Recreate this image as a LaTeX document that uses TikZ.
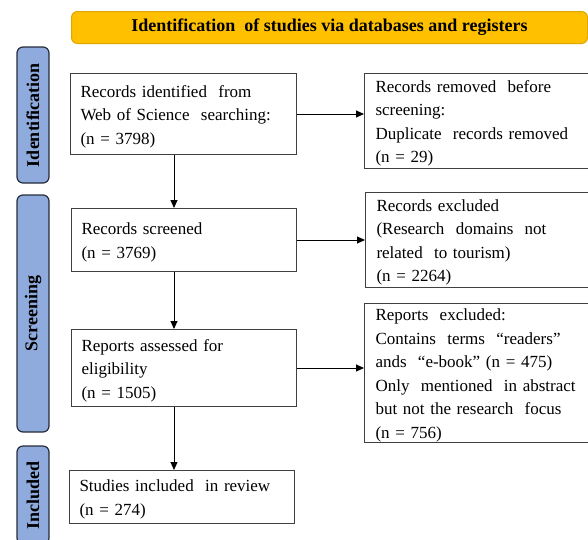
\documentclass[tikz,border=0pt]{standalone}
\usepackage{fontspec}
\setmainfont{Liberation Serif}
\usetikzlibrary{arrows.meta,positioning,calc}
\definecolor{prismagold}{RGB}{255,192,0}
\definecolor{prismaedge}{RGB}{222,166,0}
\definecolor{prismablue}{RGB}{143,170,220}
\definecolor{prismanavy}{RGB}{38,44,58}
\definecolor{boxedge}{RGB}{64,64,64}

\tikzset{
  recbox/.style={draw=boxedge, line width=1pt, anchor=north west, inner sep=0pt,
    align=left, font=\fontsize{17}{23.5}\selectfont,
    execute at begin node={\rule{0pt}{17pt}}},
  stagebox/.style={draw=prismanavy, fill=prismablue, line width=1.2pt, rounded corners=6pt,
    rotate=90, minimum height=32pt, inner sep=0pt, font=\fontsize{18}{20}\selectfont\bfseries},
  hdrbox/.style={draw=prismaedge, fill=prismagold, line width=1pt, rounded corners=6pt,
    anchor=north west, inner sep=0pt, font=\fontsize{18}{20}\selectfont\bfseries},
  arr/.style={draw=black, line width=0.9pt, -{Triangle[length=8pt,width=7pt]}}
}

\begin{document}
\begin{tikzpicture}[x=1pt, y=-1pt]
    \clip (0,0) rectangle (588,539);

    % Header
    \node[hdrbox, minimum width=516pt, minimum height=32pt] (hdr) at (71,11)
        {Identification\ \ of studies via databases and registers};

    % Stage bars
    \node[stagebox, minimum width=136pt] (idstage) at (33,115) {Identification};
    \node[stagebox, minimum width=237pt] (scrstage) at (33,313.5) {Screening};
    \node[stagebox, minimum width=98pt] (incstage) at (33,495) {Included};

    % Left column
    \node[recbox, minimum width=226pt, minimum height=81pt, text width=206pt] (ident) at (70,73)
        {Records identified\ \ from\\Web of Science\ \ searching:\\(n = 3798)};
    \node[recbox, minimum width=225pt, minimum height=63pt, text width=205pt] (screened) at (71,208)
        {Records screened\\(n = 3769)};
    \node[recbox, minimum width=225pt, minimum height=77pt, text width=205pt] (assessed) at (71,329)
        {Reports assessed for\\eligibility\\(n = 1505)};
    \node[recbox, minimum width=225pt, minimum height=53pt, text width=205pt] (included) at (69,470)
        {Studies included\ \ in review\\(n = 274)};

    % Right column
    \node[recbox, minimum width=240pt, minimum height=95pt, text width=218pt] (removed) at (364,73)
        {Records removed\ \ before\\screening:\\Duplicate\ \ records removed\\(n = 29)};
    \node[recbox, minimum width=240pt, minimum height=95pt, text width=218pt] (excluded) at (365,192)
        {Records excluded\\(Research\ \ domains\ \ not\\related\ \ to tourism)\\(n = 2264)};
    \node[recbox, minimum width=240pt, minimum height=139pt, text width=218pt] (repexcl) at (364,303)
        {Reports\ \ excluded:\\Contains\ \ terms\ \ ``readers''\\ands\ \ ``e-book'' (n = 475)\\Only\ \ mentioned\ \ in abstract\\but not the research\ \ focus\\(n = 756)};

    % Arrows
    \coordinate (vx) at (174,0);
    \draw[arr] (ident.south -| vx) -- (screened.north -| vx);
    \draw[arr] (screened.south -| vx) -- (assessed.north -| vx);
    \draw[arr] (assessed.south -| vx) -- (included.north -| vx);
    \draw[arr] (ident.east) -- (ident.east -| removed.west);
    \draw[arr] (screened.east) -- (screened.east -| excluded.west);
    \draw[arr] (assessed.east) -- (assessed.east -| repexcl.west);
\end{tikzpicture}
\end{document}
